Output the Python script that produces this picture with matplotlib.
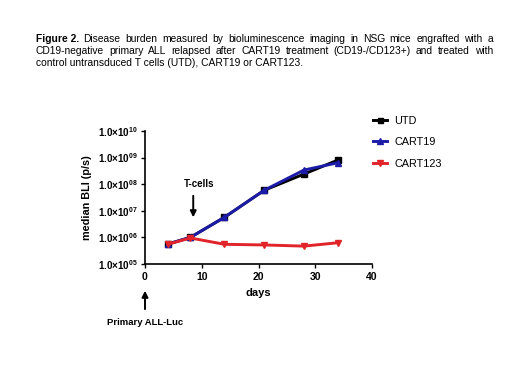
import math
import matplotlib
matplotlib.use("Agg")
import matplotlib.pyplot as plt
from matplotlib.ticker import FixedLocator, FuncFormatter

plt.rcParams["font.family"] = ["Liberation Sans", "DejaVu Sans"]
plt.rcParams["mathtext.fontset"] = "custom"
plt.rcParams["mathtext.rm"] = "Liberation Sans:bold"
plt.rcParams["mathtext.bf"] = "Liberation Sans:bold"
plt.rcParams["mathtext.default"] = "bf"

# data
days = [4, 8, 14, 21, 28, 34]
utd = [5.6e5, 1.0e6, 5.7e6, 5.9e7, 2.4e8, 8.1e8]
cart19 = [5.6e5, 1.0e6, 5.7e6, 5.9e7, 3.4e8, 6.4e8]
cart123 = [5.5e5, 9.5e5, 5.5e5, 5.2e5, 4.7e5, 6.3e5]
series_names = ["UTD", "CART19", "CART123"]
x_ticks = [0, 10, 20, 30, 40]
y_exps = [5, 6, 7, 8, 9, 10]

caption_lines = [
    "Disease burden measured by bioluminescence imaging in NSG mice engrafted with a",
    "CD19-negative primary ALL relapsed after CART19 treatment (CD19-/CD123+) and treated with",
    "control untransduced T cells (UTD), CART19 or CART123.",
]

fig = plt.figure(figsize=(5.2, 3.91), dpi=100)
ax = fig.add_axes([145 / 520, 1 - 264 / 391, (372 - 145) / 520, (264 - 131) / 391])

ax.plot(days, utd, color="black", marker="s", ms=4, lw=2.1, label=series_names[0])
ax.plot(days, cart19, color="#1c1ca8", marker="^", ms=4.5, lw=2.1, label=series_names[1])
ax.plot(days, cart123, color="#e0242a", marker="v", ms=4.5, lw=2.1, label=series_names[2])

ax.set_yscale("log")
ax.set_ylim(1e5, 1e10)
ax.set_xlim(0, 40)
ax.xaxis.set_major_locator(FixedLocator(x_ticks))
ax.yaxis.set_major_locator(FixedLocator([10.0 ** e for e in y_exps]))
ax.yaxis.set_minor_locator(FixedLocator([]))
ax.yaxis.set_major_formatter(FuncFormatter(
    lambda v, p: r"$1.0{\times}10^{%02d}$" % round(math.log10(v))))
ax.tick_params(axis="y", labelsize=7.1, length=3, width=1, pad=2)
ax.tick_params(axis="x", labelsize=7.5, length=3, width=1, pad=3)
for lbl in ax.get_xticklabels():
    lbl.set_fontweight("bold")
ax.spines["top"].set_visible(False)
ax.spines["right"].set_visible(False)
ax.spines["left"].set_linewidth(1.2)
ax.spines["bottom"].set_linewidth(1.2)
ax.set_xlabel("days", fontsize=8, fontweight="bold", labelpad=4)
ax.set_ylabel("median BLI (p/s)", fontsize=7.8, fontweight="bold", labelpad=4)

# annotations
ax.annotate("", xy=(8.5, 10 ** 6.65), xytext=(8.5, 10 ** 7.67),
            arrowprops=dict(arrowstyle="-|>", color="black", lw=1.4, mutation_scale=9))
ax.text(9.5, 10 ** 8.0, "T-cells", fontsize=7, fontweight="bold", ha="center", va="center")
ax.annotate("", xy=(0, 10 ** 4.1), xytext=(0, 10 ** 3.2),
            arrowprops=dict(arrowstyle="-|>", color="black", lw=1.4, mutation_scale=9),
            annotation_clip=False)
ax.text(0, 10 ** 2.8, "Primary ALL-Luc", fontsize=6.8, fontweight="bold",
        ha="center", va="center")

fig.legend(loc="upper left", bbox_to_anchor=(363 / 520, 1 - 106 / 391), frameon=False,
           fontsize=7.8, handlelength=1.3, labelspacing=1.05, handletextpad=0.7,
           markerscale=0.9)

# caption
fig.canvas.draw()
renderer = fig.canvas.get_renderer()
fs = 7.4
x0, x1 = 36 / 520, 493 / 520
ys = [39, 51.5, 63]
head = fig.text(x0, 1 - ys[0] / 391, "Figure 2.", fontsize=fs, fontweight="bold",
                va="center", ha="left")
hw = head.get_window_extent(renderer).width / 520
for i, line in enumerate(caption_lines):
    start = x0 + (hw + 0.008 if i == 0 else 0)
    words = line.split(" ")
    y = 1 - ys[i] / 391
    if i == len(caption_lines) - 1:
        fig.text(start, y, line, fontsize=fs, va="center", ha="left")
        continue
    objs = [fig.text(0, y, w, fontsize=fs, va="center", ha="left") for w in words]
    widths = [o.get_window_extent(renderer).width / 520 for o in objs]
    gap = (x1 - start - sum(widths)) / (len(words) - 1)
    pos = start
    for o, w in zip(objs, widths):
        o.set_x(pos)
        pos += w + gap

fig.savefig("out.png", dpi=100)
